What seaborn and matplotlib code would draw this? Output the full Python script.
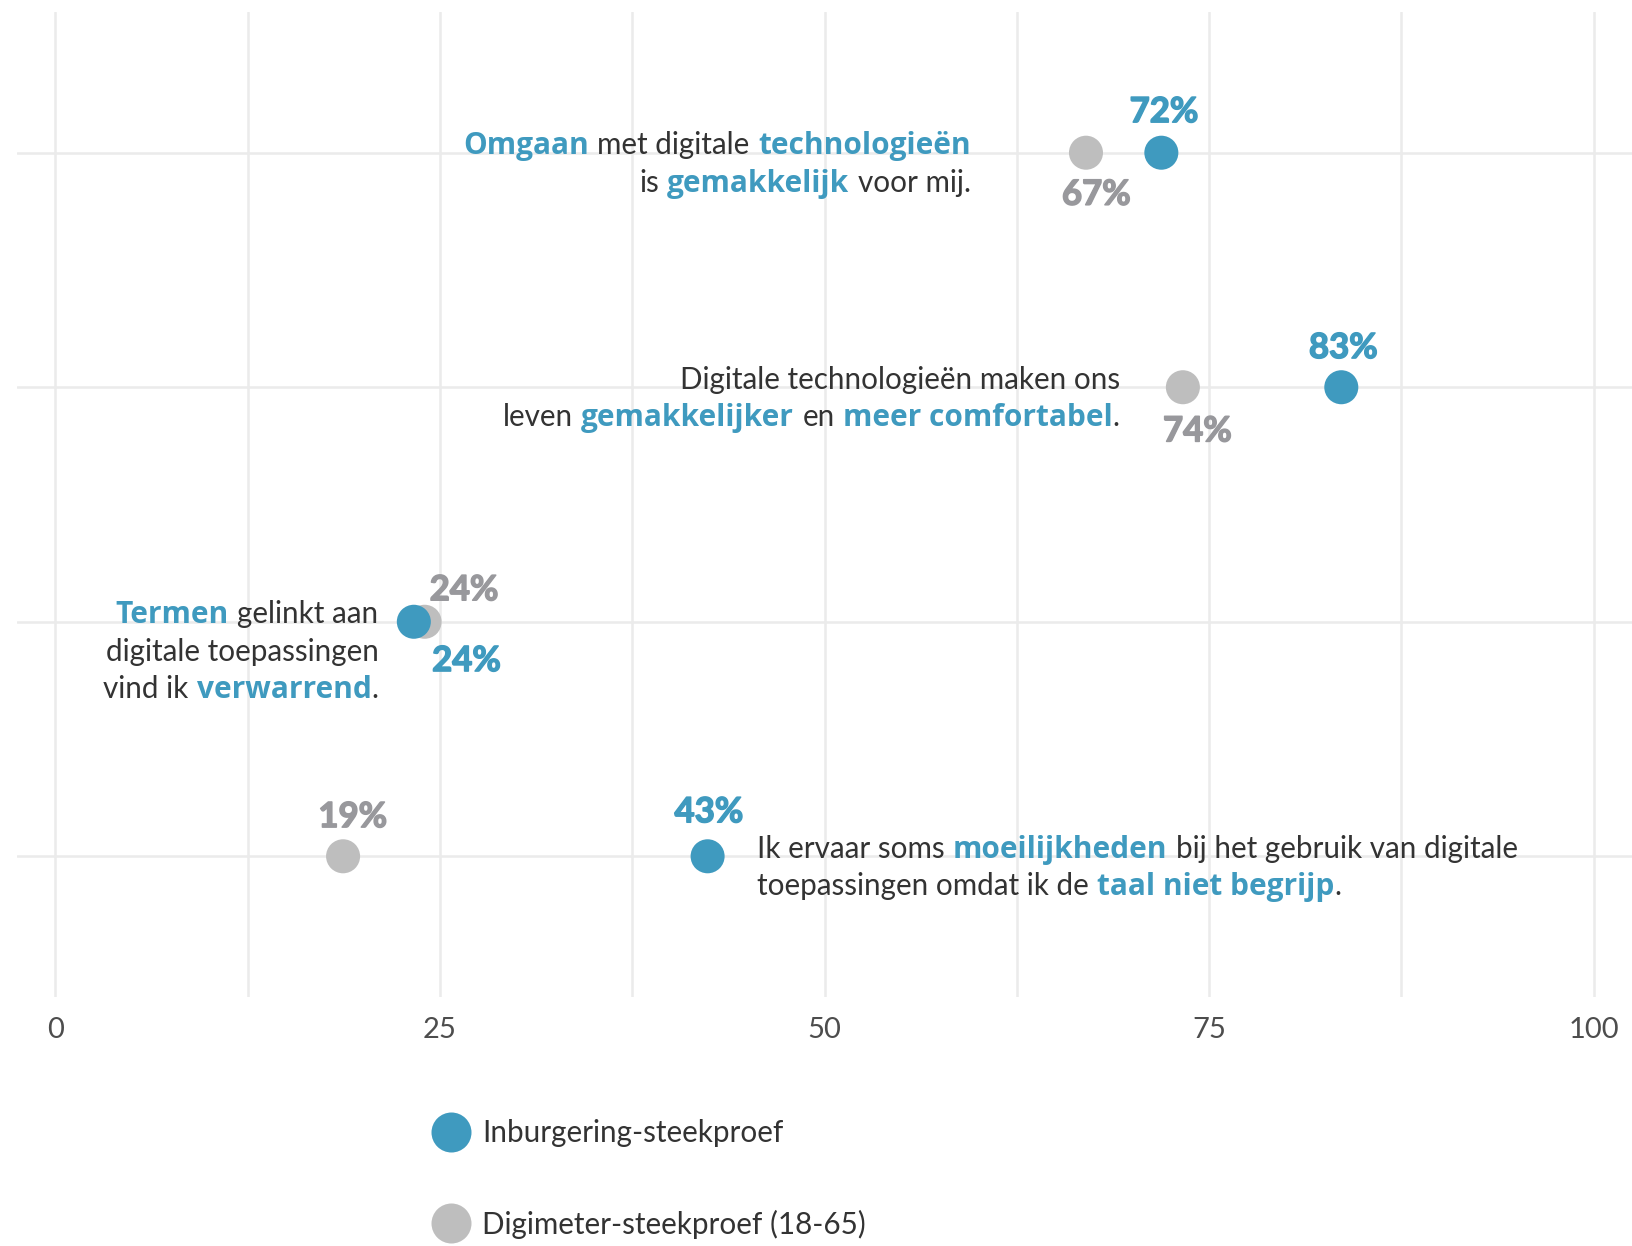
import pandas as pd
import matplotlib.pyplot as plt
import matplotlib.patheffects as pe
import seaborn as sns
from matplotlib.lines import Line2D

sns.set_style("white")
plt.rcParams["font.family"] = ["Lato", "DejaVu Sans"]

# data
statements = ["omgaan", "comfortabel", "termen", "taal"]
inburgering = [71.9, 83.6, 23.3, 42.4]
digimeter = [67.0, 73.3, 24.0, 18.7]
inburgering_labels = ["72%", "83%", "24%", "43%"]
digimeter_labels = ["67%", "74%", "24%", "19%"]
groups = ["Inburgering-steekproef", "Digimeter-steekproef (18-65)"]

# statement texts, (piece, highlighted)
statement_lines = [
    [[("Omgaan", True), ("met digitale", False), ("technologieën", True)],
     [("is", False), ("gemakkelijk", True), ("voor mij.", False)]],
    [[("Digitale technologieën maken ons", False)],
     [("leven", False), ("gemakkelijker", True), ("en", False),
      ("meer comfortabel", True), (".", False)]],
    [[("Termen", True), ("gelinkt aan", False)],
     [("digitale toepassingen", False)],
     [("vind ik", False), ("verwarrend", True), (".", False)]],
    [[("Ik ervaar soms", False), ("moeilijkheden", True),
      ("bij het gebruik van digitale", False)],
     [("toepassingen omdat ik de", False), ("taal niet begrijp", True), (".", False)]],
]

# layout
label_x = [59.5, 69.2, 21.0, 45.6]
label_ha = ["right", "right", "right", "left"]
inb_offsets = [(2, 31), (1.5, 30), (38, -26.5), (1, 33.5)]
dig_offsets = [(7.5, -28.5), (10.5, -30), (28.5, 24.5), (7, 30)]

BLUE = "#3F9ABF"
GREY = "#BEBEBE"
GREY_TXT = "#98989C"
DARK = "#333333"
GRID = "#EBEBEB"
TXT = 21.3
PCT = 25
GAP = 6
LINE = 27.0

df = pd.DataFrame({
    "stmt": statements * 2,
    "pct": digimeter + inburgering,
    "group": [groups[1]] * 4 + [groups[0]] * 4,
})

fig = plt.figure(figsize=(16.32, 12.46), dpi=100)
ax = fig.add_axes([17 / 1632, 1 - 997 / 1246, 1 - 17 / 1632, (997 - 12) / 1246])

sns.stripplot(data=df, x="pct", y="stmt", hue="group", order=statements,
              hue_order=[groups[1], groups[0]],
              palette={groups[0]: BLUE, groups[1]: GREY},
              jitter=False, size=24.5, linewidth=0, legend=False, ax=ax, zorder=3)

ax.set_xlim(-2.5, 102.5)
ax.set_ylim(3.6, -0.6)
ax.set_xticks([0, 25, 50, 75, 100])
ax.set_xticks([12.5, 37.5, 62.5, 87.5], minor=True)
ax.grid(True, axis="x", which="both", color=GRID, lw=1.8, zorder=0)
ax.yaxis.grid(True, color=GRID, lw=1.8)
ax.set_axisbelow(True)
ax.tick_params(axis="x", which="major", length=4.3, width=1.2, color=DARK,
               pad=10, labelsize=21, labelcolor="#4D4D4D")
ax.tick_params(axis="x", which="minor", length=0)
ax.tick_params(axis="y", length=0, labelleft=False)
ax.set_xlabel("")
ax.set_ylabel("")
for s in ax.spines.values():
    s.set_visible(False)


def style(hi):
    if hi:
        return dict(color=BLUE, fontweight="bold", fontsize=21.5,
                    family=["Open Sans", "DejaVu Sans"])
    return dict(color=DARK, fontweight="normal", fontsize=TXT)


def gap_for(text):
    return 0 if text.startswith(".") else GAP


def draw_line(x, y, pieces, ha, dy):
    # pieces are chained sideways, baselines all sit on the same data y
    if ha == "left":
        prev = None
        for text, hi in pieces:
            if prev is None:
                prev = ax.annotate(text, xy=(x, y), xytext=(0, dy), textcoords="offset points",
                                   ha="left", va="baseline", **style(hi))
            else:
                prev = ax.annotate(text, xy=(1, y), xycoords=(prev, "data"),
                                   xytext=(gap_for(text), dy), textcoords="offset points",
                                   ha="left", va="baseline", **style(hi))
    else:
        nxt = None
        for text, hi in reversed(pieces):
            if nxt is None:
                nxt = ax.annotate(text, xy=(x, y), xytext=(0, dy), textcoords="offset points",
                                  ha="right", va="baseline", **style(hi))
            else:
                nxt = ax.annotate(text, xy=(0, y), xycoords=(nxt, "data"),
                                  xytext=(-nxt_gap, dy), textcoords="offset points",
                                  ha="right", va="baseline", **style(hi))
            nxt_gap = gap_for(text)


for i, lines in enumerate(statement_lines):
    for j, pieces in enumerate(lines):
        draw_line(label_x[i], i, pieces, label_ha[i], -1 - j * LINE)

    for val, lab, off, col in [(inburgering[i], inburgering_labels[i], inb_offsets[i], BLUE),
                               (digimeter[i], digimeter_labels[i], dig_offsets[i], GREY_TXT)]:
        ax.annotate(lab, xy=(val, i), xytext=(off[0], off[1] - 9), textcoords="offset points",
                    ha="center", va="baseline", fontsize=PCT, fontweight="bold", color=col,
                    path_effects=[pe.withStroke(linewidth=1.1, foreground=col)])

handles = [Line2D([], [], marker="o", ls="", markersize=28.8, markeredgewidth=0, color=BLUE),
           Line2D([], [], marker="o", ls="", markersize=28.8, markeredgewidth=0, color=GREY)]
fig.legend(handles, groups, loc="center left", bbox_to_anchor=(433 / 1632, 1 - 1179 / 1246),
           frameon=False, fontsize=TXT, borderpad=0, borderaxespad=0, handlelength=1.2,
           handletextpad=0.45, labelspacing=2.1, labelcolor=DARK)

fig.savefig("out.png", dpi=100)
